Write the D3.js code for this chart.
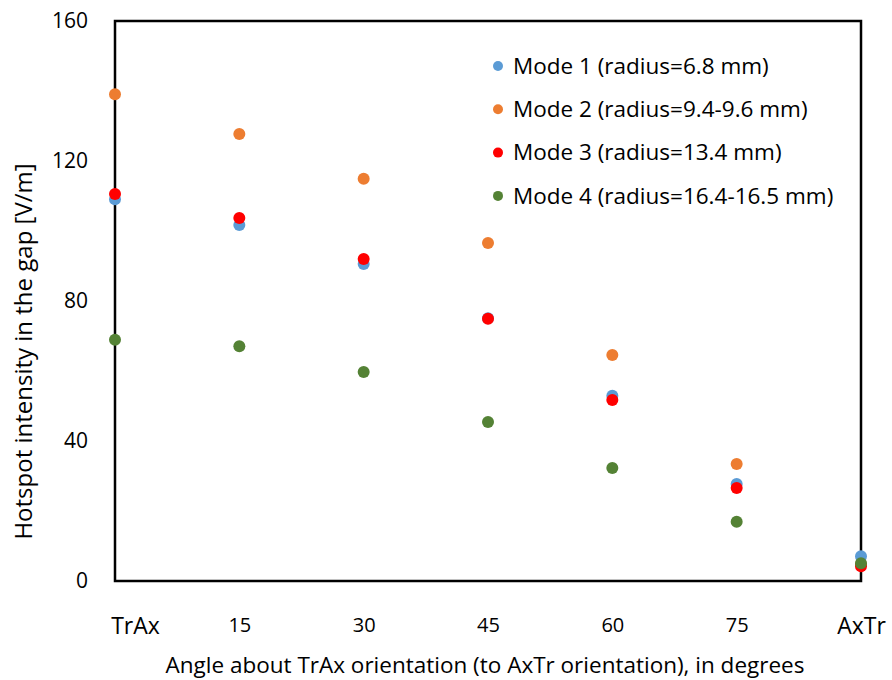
<!DOCTYPE html>
<html>
<head>
<meta charset="utf-8">
<script src="https://cdn.jsdelivr.net/npm/d3@7"></script>
<style>
  body { margin: 0; background: #fff; }
  text { font-family: "Open Sans", "Noto Sans", sans-serif; fill: #000; }
</style>
</head>
<body>
<svg id="chart" width="892" height="680"></svg>
<script>
// Angle positions (degrees from TrAx toward AxTr)
const angles = [0, 15, 30, 45, 60, 75, 90];
const angleLabels = ["TrAx", "15", "30", "45", "60", "75", "AxTr"];
const yTicks = [0, 40, 80, 120, 160];

const seriesNames = [
  "Mode 1 (radius=6.8 mm)",
  "Mode 2 (radius=9.4-9.6 mm)",
  "Mode 3 (radius=13.4 mm)",
  "Mode 4 (radius=16.4-16.5 mm)"
];
const seriesColors = ["#5b9bd5", "#ed7d31", "#ff0000", "#548235"];

// Hotspot intensity [V/m] per mode
const mode1 = [109.1, 101.7, 90.6, 75.1, 52.9, 27.7, 7.1];
const mode2 = [139.1, 127.7, 114.9, 96.6, 64.6, 33.4, 4.8];
const mode3 = [110.6, 103.7, 92.0, 74.9, 51.7, 26.6, 4.2];
const mode4 = [68.9, 67.1, 59.7, 45.4, 32.3, 16.9, 5.1];
const seriesValues = [mode1, mode2, mode3, mode4];

const svg = d3.select("#chart");
const plot = { left: 115, right: 861, top: 21, bottom: 581 };

const x = d3.scaleLinear().domain([0, 90]).range([plot.left, plot.right]);
const y = d3.scaleLinear().domain([0, 160]).range([plot.bottom, plot.top]);

// Frame around the plot area
svg.append("rect")
  .attr("x", plot.left).attr("y", plot.top)
  .attr("width", plot.right - plot.left).attr("height", plot.bottom - plot.top)
  .attr("fill", "none").attr("stroke", "#000").attr("stroke-width", 2.5);

// Y axis labels
const yAxis = d3.axisLeft(y).tickValues(yTicks).tickSize(0).tickPadding(27);
const gy = svg.append("g").attr("transform", `translate(${plot.left},0)`).call(yAxis);
gy.select(".domain").remove();
gy.selectAll("text").style("font-size", "21px").attr("font-family", null);

// X axis labels (endpoint names are set larger; TrAx sits right of the axis)
const isEnd = i => i === 0 || i === angles.length - 1;
const xAxis = d3.axisBottom(x).tickValues(angles).tickSize(0).tickPadding(0)
  .tickFormat((d, i) => angleLabels[i]);
const gx = svg.append("g").attr("transform", `translate(0,${plot.bottom})`).call(xAxis);
gx.select(".domain").remove();
gx.selectAll("text")
  .attr("font-family", null)
  .attr("dy", null)
  .attr("x", (d, i) => i === 0 ? 20 : 0)
  .attr("y", (d, i) => isEnd(i) ? 53 : 51)
  .style("font-size", (d, i) => isEnd(i) ? "23px" : "20px");

// Axis titles
svg.append("text")
  .attr("x", 485).attr("y", 673)
  .attr("text-anchor", "middle")
  .style("font-size", "22.5px")
  .text("Angle about TrAx orientation (to AxTr orientation), in degrees");

svg.append("text")
  .attr("transform", `translate(32,${(155 + 548) / 2}) rotate(-90)`)
  .attr("text-anchor", "middle")
  .style("font-size", "24px")
  .text("Hotspot intensity in the gap [V/m]");

// Data points
seriesValues.forEach((vals, s) => {
  svg.append("g")
    .selectAll("circle")
    .data(vals)
    .join("circle")
    .attr("cx", (d, i) => x(angles[i]))
    .attr("cy", d => y(d))
    .attr("r", 6)
    .attr("fill", seriesColors[s]);
});

// Legend
const legend = svg.append("g").attr("transform", "translate(498,66)");
seriesNames.forEach((name, i) => {
  const row = legend.append("g").attr("transform", `translate(0,${i * 43.3})`);
  row.append("circle").attr("r", 5).attr("fill", seriesColors[i]);
  row.append("text").attr("x", 15).attr("dy", "0.35em")
    .style("font-size", "22.5px").text(name);
});
</script>
</body>
</html>
